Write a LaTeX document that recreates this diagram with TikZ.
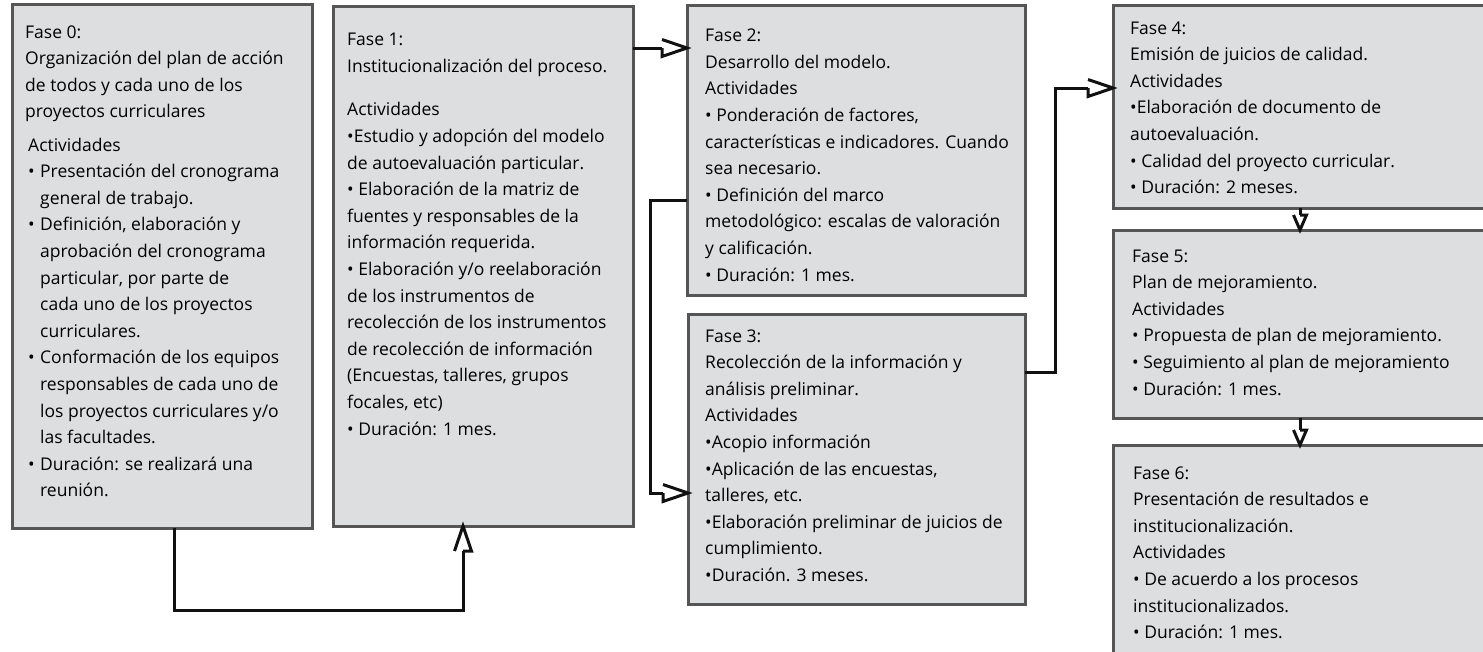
\documentclass[tikz,border=0pt]{standalone}
\usepackage{fontspec}
\setmainfont{Open Sans}
\usetikzlibrary{arrows.meta,calc}
\definecolor{boxfill}{HTML}{DDDEE0}
\definecolor{boxline}{HTML}{555555}
\definecolor{connline}{HTML}{111111}
\pgfdeclarearrow{
  name = VHead,
  parameters = {\the\pgfarrowlength,\the\pgfarrowwidth,\the\pgfarrowlinewidth},
  setup code = {
    \pgfarrowssettipend{0pt}
    \pgfarrowssetlineend{-\pgfarrowlength}
    \pgfarrowssetvisualbackend{-\pgfarrowlength}
    \pgfarrowssetbackend{-\pgfarrowlength}
    \pgfarrowssavethe\pgfarrowlength
    \pgfarrowssavethe\pgfarrowwidth
    \pgfarrowssavethe\pgfarrowlinewidth
  },
  drawing code = {
    \pgfsetlinewidth{\pgfarrowlinewidth}
    \pgfsetdash{}{0pt}
    \pgfpathmoveto{\pgfqpoint{-\pgfarrowlength}{.5\pgfarrowwidth}}
    \pgfpathlineto{\pgfpointorigin}
    \pgfpathlineto{\pgfqpoint{-\pgfarrowlength}{-.5\pgfarrowwidth}}
    \pgfpathlineto{\pgfqpoint{-\pgfarrowlength}{0pt}}
    \pgfusepathqstroke
  },
  defaults = {length = 25pt, width = 17pt}
}
\begin{document}
\begin{tikzpicture}[x=1pt,y=-1pt,
  box/.style={draw=boxline, fill=boxfill, line width=3pt, anchor=north west, inner sep=0pt, outer sep=0pt},
  txt/.style={anchor=base west, align=left, inner sep=0pt, font=\fontsize{17.5}{26.6}\selectfont},
  conn/.style={draw=connline, line width=3pt, -{VHead[length=25pt,width=17pt,line width'=3pt]}},
  sconn/.style={draw=connline, line width=3pt, -{VHead[length=15pt,width=13pt,line width'=3pt,swap]}}]
\useasboundingbox (0,0) rectangle (1483,651);
\begin{scope}
\clip (0,0) rectangle (1483,651);
% boxes
\node[box, minimum width=300pt, minimum height=524pt] (f0) at (12,4) {};
\node[box, minimum width=300pt, minimum height=520pt] (f1) at (333,6) {};
\node[box, minimum width=338pt, minimum height=290pt] (f2) at (687,5) {};
\node[box, minimum width=337pt, minimum height=290pt] (f3) at (688,314) {};
\node[box, minimum width=400pt, minimum height=203pt] (f4) at (1113,5) {};
\node[box, minimum width=400pt, minimum height=188pt] (f5) at (1113,230) {};
\node[box, minimum width=400pt, minimum height=240pt] (f6) at (1113,445) {};
% texts (anchor = baseline of the last line)
\node[txt] (t0) at (25,496.8) {Fase 0:\\
Organización del plan de acción\\
de todos y cada uno de los\\
proyectos curriculares\\[6.6pt]
\hspace*{3pt}Actividades\\
\hspace*{3pt}\makebox[12pt][l]{•}Presentación del cronograma\\
\hspace*{15pt}general de trabajo.\\
\hspace*{3pt}\makebox[12pt][l]{•}Definición, elaboración y\\
\hspace*{15pt}aprobación del cronograma\\
\hspace*{15pt}particular, por parte de\\
\hspace*{15pt}cada uno de los proyectos\\
\hspace*{15pt}curriculares.\\
\hspace*{3pt}\makebox[12pt][l]{•}Conformación de los equipos\\
\hspace*{15pt}responsables de cada uno de\\
\hspace*{15pt}los proyectos curriculares y/o\\
\hspace*{15pt}las facultades.\\
\hspace*{3pt}\makebox[12pt][l]{•}Duración: se realizará una\\
\hspace*{15pt}reunión.};
\node[txt] (t1) at (347,435) {Fase 1:\\
Institucionalización del proceso.\\[16.8pt]
Actividades\\
•Estudio y adopción del modelo\\
de autoevaluación particular.\\
• Elaboración de la matriz de\\
fuentes y responsables de la\\
información requerida.\\
• Elaboración y/o reelaboración\\
de los instrumentos de\\
recolección de los instrumentos\\
de recolección de información\\
(Encuestas, talleres, grupos\\
focales, etc)\\
• Duración: 1 mes.};
\node[txt] (t2) at (705,281.1) {Fase 2:\\
Desarrollo del modelo.\\
Actividades\\
• Ponderación de factores,\\
características e indicadores. Cuando\\
sea necesario.\\
• Definición del marco\\
metodológico: escalas de valoración\\
y calificación.\\
• Duración: 1 mes.};
\node[txt] (t3) at (705,581.4) {Fase 3:\\
Recolección de la información y\\
análisis preliminar.\\
Actividades\\
•Acopio información\\
•Aplicación de las encuestas,\\
talleres, etc.\\
•Elaboración preliminar de juicios de\\
cumplimiento.\\
•Duración. 3 meses.};
\node[txt] (t4) at (1130,193.6) {Fase 4:\\
Emisión de juicios de calidad.\\
Actividades\\
•Elaboración de documento de\\
autoevaluación.\\
• Calidad del proyecto curricular.\\
• Duración: 2 meses.};
\node[txt] (t5) at (1132,395) {Fase 5:\\
Plan de mejoramiento.\\
Actividades\\
• Propuesta de plan de mejoramiento.\\
• Seguimiento al plan de mejoramiento\\
• Duración: 1 mes.};
\node[txt] (t6) at (1133,638.6) {Fase 6:\\
Presentación de resultados e\\
institucionalización.\\
Actividades\\
• De acuerdo a los procesos\\
institucionalizados.\\
• Duración: 1 mes.};
% connectors
\coordinate (y48) at (0,48);
\coordinate (k23) at (650,200);
\coordinate (k23b) at (0,493);
\coordinate (k34) at (1055,372);
\coordinate (k34b) at (0,88);
\coordinate (x1300) at (1300,0);
\draw[conn] ([xshift=162pt]f0.south west) -- ++(0,82) -| ([xshift=130pt]f1.south west);
\draw[conn] (f1.east |- y48) -- (f2.west |- y48);
\draw[conn] (f2.west |- k23) -- (k23) |- (f3.west |- k23b);
\draw[conn] (f3.east |- k34) -- (k34) |- (f4.west |- k34b);
\draw[sconn] (f4.south west -| x1300) -- (f5.north west -| x1300);
\draw[sconn] (f5.south west -| x1300) -- (f6.north west -| x1300);
\end{scope}
\end{tikzpicture}
\end{document}
